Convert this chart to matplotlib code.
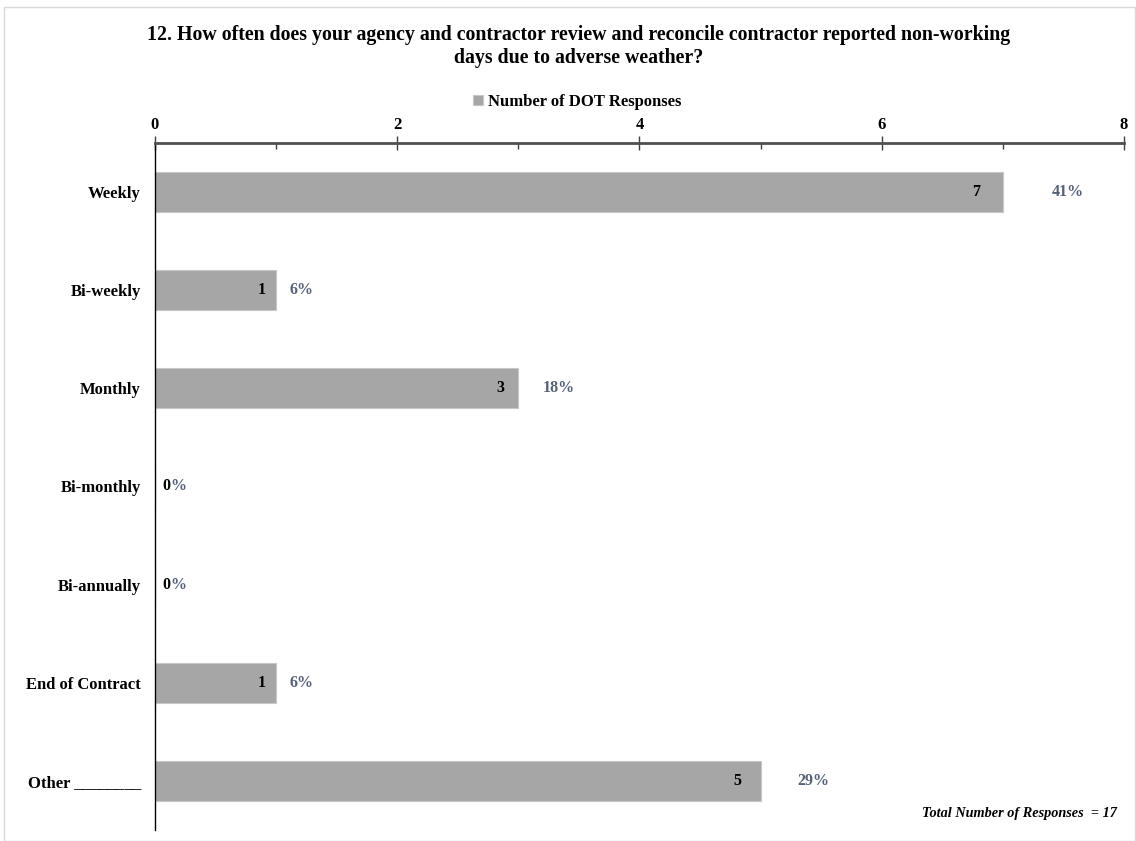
import matplotlib
matplotlib.use("Agg")
import matplotlib.pyplot as plt
from matplotlib.patches import Rectangle
from matplotlib.ticker import MultipleLocator

categories = ["Weekly", "Bi-weekly", "Monthly", "Bi-monthly", "Bi-annually",
              "End of Contract", "Other ________"]
responses = [7, 1, 3, 0, 0, 1, 5]
percents = ["41%", "6%", "18%", "0%", "0%", "6%", "29%"]
total = 17

plt.rcParams['font.family'] = ['Liberation Serif', 'DejaVu Serif']
plt.rcParams['font.weight'] = 'bold'

fig = plt.figure(figsize=(11.36, 8.41), dpi=100)
ax = fig.add_axes([0.1364, 0.0131, 0.8530, 0.8169])

ypos = list(range(len(categories)))
ax.barh(ypos, responses, height=0.41, color="#a6a6a6", edgecolor="#c8c8c8",
        linewidth=0.8, label="Number of DOT Responses", zorder=2)

pct_color = "#55627a"
for y, v, p in zip(ypos, responses, percents):
    px = v * 1.049 + 0.058
    if v > 0:
        ax.text(px, y, p, ha="left", va="center", fontsize=11.5,
                color=pct_color, fontweight="bold", zorder=3)
        ax.text(v * 0.982 - 0.065, y, str(v), ha="right", va="center",
                fontsize=11.5, color="black", fontweight="bold", zorder=4)
    else:
        # zero count covers the digit of the percent label
        t0 = ax.text(px, y, str(v), ha="left", va="center", fontsize=11.5,
                     color="black", fontweight="bold", zorder=4)
        ax.annotate(p[len(str(v)):], xy=(1, 0.5), xycoords=t0, ha="left",
                    va="center", fontsize=11.5, color=pct_color,
                    fontweight="bold", zorder=3)

ax.set_xlim(0, 8)
ax.set_ylim(len(categories) - 0.5, -0.5)
ax.set_yticks(ypos)
ax.set_yticklabels(categories, fontsize=12, fontweight="bold")
ax.tick_params(axis="y", length=0, pad=10)

ax.xaxis.tick_top()
ax.xaxis.set_major_locator(MultipleLocator(2))
ax.xaxis.set_minor_locator(MultipleLocator(1))
ax.tick_params(axis="x", which="major", direction="inout", length=10, width=1,
               color="#404040", labelsize=12, pad=2.5)
ax.tick_params(axis="x", which="minor", direction="in", length=4, width=1,
               color="#404040")
for t in ax.get_xticklabels():
    t.set_fontweight("bold")

for s in ["right", "bottom"]:
    ax.spines[s].set_visible(False)
ax.spines["top"].set_color("#505050")
ax.spines["top"].set_linewidth(2)
ax.spines["left"].set_color("black")
ax.spines["left"].set_linewidth(1)

fig.legend(loc="center", bbox_to_anchor=(0.508, 0.879), frameon=False,
           handlelength=0.6, handleheight=0.6, handletextpad=0.3,
           prop={"weight": "bold", "size": 12})

fig.text(0.509, 0.945,
         "12. How often does your agency and contractor review and reconcile contractor reported non-working\ndays due to adverse weather?",
         ha="center", va="center", fontsize=14.3, fontweight="bold", linespacing=1.2)

fig.text(0.983, 0.033, "Total Number of Responses  = %d" % total, ha="right",
         va="center", fontsize=10.3, fontweight="bold", style="italic")

fig.patches.append(Rectangle((4 / 1136, 0), 1131 / 1136, 834 / 841,
                             transform=fig.transFigure, fill=False,
                             edgecolor="#d9d9d9", linewidth=1))

fig.savefig("out.png", dpi=100)
